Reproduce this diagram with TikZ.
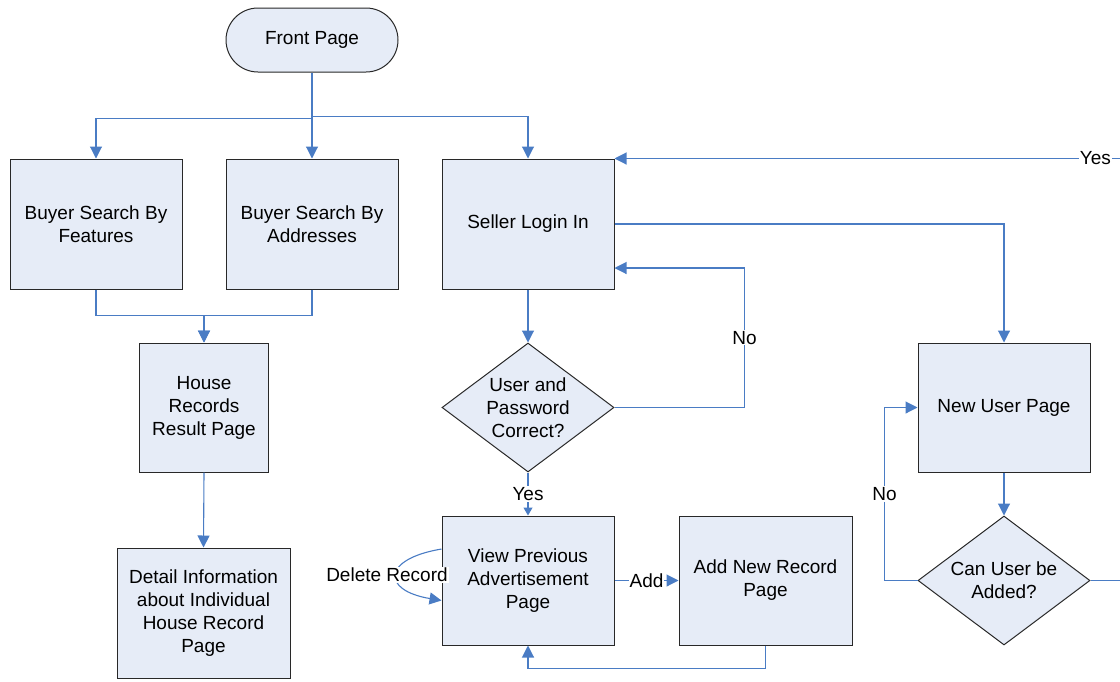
\documentclass[tikz,border=0pt]{standalone}
\usepackage{fontspec}
\setmainfont{Liberation Sans}
\usetikzlibrary{arrows.meta,shapes.geometric,calc}
\definecolor{boxfill}{RGB}{230,236,247}
\definecolor{boxline}{RGB}{40,40,40}
\definecolor{link}{RGB}{74,124,196}

\begin{document}
\begin{tikzpicture}[x=1pt,y=-1pt,
  font=\fontsize{19}{23}\selectfont,
  pagebox/.style={draw=boxline,fill=boxfill,line width=1pt,
    minimum width=172pt,minimum height=130pt,align=center,inner sep=2pt},
  terminal/.style={draw=boxline,fill=boxfill,line width=1pt,rounded corners=32pt,
    minimum width=172pt,minimum height=64pt,align=center},
  decision/.style={draw=boxline,fill=boxfill,line width=1pt,shape=diamond,
    minimum width=172pt,minimum height=129pt,inner sep=0pt},
  arr/.style={draw=link,line width=1.1pt,-{Triangle[length=12pt,width=12pt]}},
  shortarr/.style={draw=link,line width=1.1pt,-{Triangle[length=8pt,width=9pt]}},
  lbl/.style={fill=white,inner sep=1pt,text=black}]
\useasboundingbox (0,0) rectangle (1120,681);

% pages
\node[terminal] (fp) at (312,40) {Front Page};
\node[pagebox] (bf) at (96,224) {Buyer Search By\\Features};
\node[pagebox] (ba) at (312,224) {Buyer Search By\\Addresses};
\node[pagebox] (sl) at (528,224) {Seller Login In};
\node[pagebox,minimum width=129pt,minimum height=129pt] (hr) at (204,407.5) {House\\Records\\Result Page};
\node[pagebox,minimum width=173pt] (det) at (203.5,613) {Detail Information\\about Individual\\House Record\\Page};
\node[decision] (d1) at (528,407.5) {};
\node[align=center] at (d1) {User and\\Password\\Correct?};
\node[pagebox,minimum height=129pt] (nu) at (1004,407.5) {New User Page};
\node[pagebox,minimum height=129pt] (vp) at (528,580.5) {View Previous\\Advertisement\\Page};
\node[pagebox,minimum width=173pt,minimum height=129pt] (an) at (765.5,580.5) {Add New Record\\Page};
\node[decision] (d2) at (1004,580.5) {};
\node[align=center] at (d2) {Can User be\\Added?};

% front page fan-out
\draw[arr] (fp.south) -- ++(0,46) -| (bf.north);
\draw[arr] (fp.south) -- (ba.north);
\draw[arr] (fp.south) -- ++(0,44) -| (sl.north);

% buyer searches to results
\draw[arr] (bf.south) -- ++(0,26) -| (hr.north);
\draw[arr] (ba.south) -- ++(0,26) -| (hr.north);
\draw[arr] (hr.south) -- (det.north);

% seller login
\draw[arr] (sl.south) -- (d1.north);
\draw[arr] (d1.east) -- ++(130,0) |- node[lbl,pos=0.25] {No} ($(sl.east)+(0,44)$);
\draw[shortarr] (d1.south) -- node[lbl] {Yes} (vp.north);
\draw[arr] (sl.east) -| (nu.north);

% record pages
\draw[arr] (vp.east) -- node[lbl] {Add} (an.west);
\draw[arr] (an.south) -- ++(0,23) -| (vp.south);
\draw[arr] (vp.160) .. controls +(-60,10) and +(-60,-10) .. (vp.193);
\node[lbl] at (387,575) {Delete Record};

% new user
\draw[arr] (nu.south) -- (d2.north);
\draw[arr] (d2.west) -- ++(-33,0) |- node[lbl,pos=0.25] {No} (nu.west);
\draw[arr] (d2.east) -- ++(40,0) |- node[lbl,pos=0.534] {Yes} (sl.north east);
\end{tikzpicture}
\end{document}
